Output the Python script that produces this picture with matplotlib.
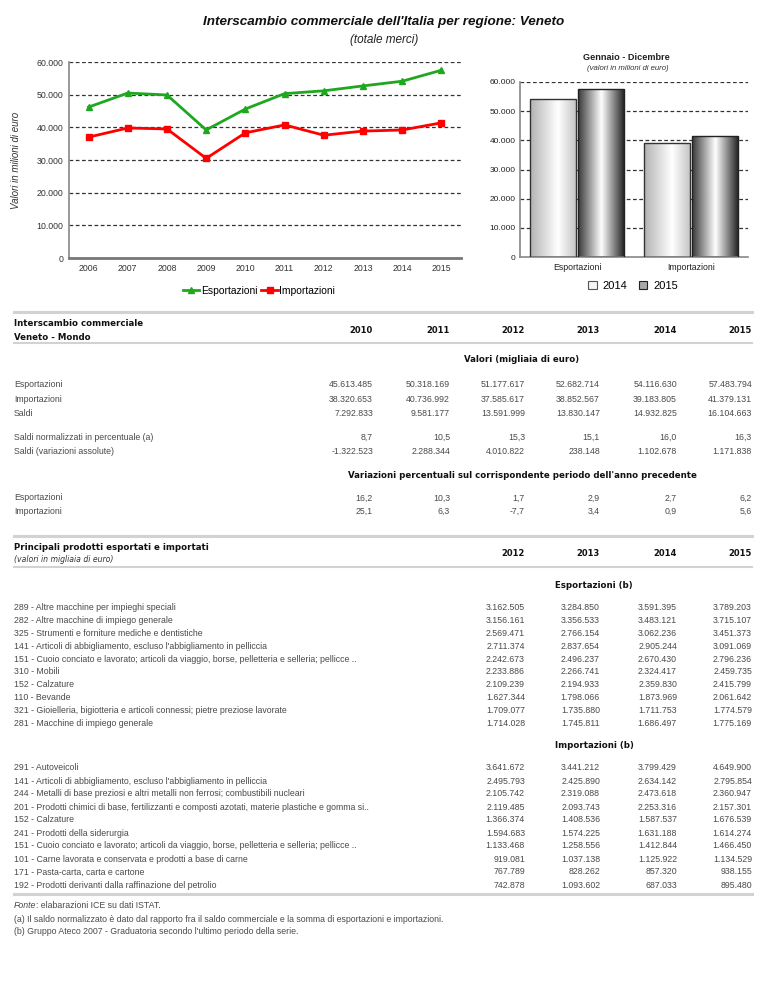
import numpy as np
import matplotlib
matplotlib.use('Agg')
import matplotlib.pyplot as plt
from matplotlib.lines import Line2D
from matplotlib.patches import Patch

W, H = 768, 994

# ---- chart data (milioni di euro) ----
years_line = ['2006', '2007', '2008', '2009', '2010', '2011', '2012', '2013', '2014', '2015']
export_line = [46200, 50500, 49900, 39200, 45613, 50318, 51178, 52683, 54117, 57484]
import_line = [37000, 39800, 39500, 30500, 38321, 40737, 37586, 38853, 39184, 41379]

bar_groups = ['Esportazioni', 'Importazioni']
bar_2014 = [54117, 39184]
bar_2015 = [57484, 41379]

# ---- table data (migliaia di euro) ----
tab_years = ['2010', '2011', '2012', '2013', '2014', '2015']
val_exp = [45613485, 50318169, 51177617, 52682714, 54116630, 57483794]
val_imp = [38320653, 40736992, 37585617, 38852567, 39183805, 41379131]
val_saldi = [7292833, 9581177, 13591999, 13830147, 14932825, 16104663]
saldi_norm = [8.7, 10.5, 15.3, 15.1, 16.0, 16.3]
saldi_var = [-1322523, 2288344, 4010822, 238148, 1102678, 1171838]
var_exp = [16.2, 10.3, 1.7, 2.9, 2.7, 6.2]
var_imp = [25.1, 6.3, -7.7, 3.4, 0.9, 5.6]

prod_years = ['2012', '2013', '2014', '2015']
exp_labels = [
    "289 - Altre macchine per impieghi speciali",
    "282 - Altre macchine di impiego generale",
    "325 - Strumenti e forniture mediche e dentistiche",
    "141 - Articoli di abbigliamento, escluso l'abbigliamento in pelliccia",
    "151 - Cuoio conciato e lavorato; articoli da viaggio, borse, pelletteria e selleria; pellicce ..",
    "310 - Mobili",
    "152 - Calzature",
    "110 - Bevande",
    "321 - Gioielleria, bigiotteria e articoli connessi; pietre preziose lavorate",
    "281 - Macchine di impiego generale",
]
exp_vals = [
    [3162505, 3284850, 3591395, 3789203],
    [3156161, 3356533, 3483121, 3715107],
    [2569471, 2766154, 3062236, 3451373],
    [2711374, 2837654, 2905244, 3091069],
    [2242673, 2496237, 2670430, 2796236],
    [2233886, 2266741, 2324417, 2459735],
    [2109239, 2194933, 2359830, 2415799],
    [1627344, 1798066, 1873969, 2061642],
    [1709077, 1735880, 1711753, 1774579],
    [1714028, 1745811, 1686497, 1775169],
]
imp_labels = [
    "291 - Autoveicoli",
    "141 - Articoli di abbigliamento, escluso l'abbigliamento in pelliccia",
    "244 - Metalli di base preziosi e altri metalli non ferrosi; combustibili nucleari",
    "201 - Prodotti chimici di base, fertilizzanti e composti azotati, materie plastiche e gomma si..",
    "152 - Calzature",
    "241 - Prodotti della siderurgia",
    "151 - Cuoio conciato e lavorato; articoli da viaggio, borse, pelletteria e selleria; pellicce ..",
    "101 - Carne lavorata e conservata e prodotti a base di carne",
    "171 - Pasta-carta, carta e cartone",
    "192 - Prodotti derivanti dalla raffinazione del petrolio",
]
imp_vals = [
    [3641672, 3441212, 3799429, 4649900],
    [2495793, 2425890, 2634142, 2795854],
    [2105742, 2319088, 2473618, 2360947],
    [2119485, 2093743, 2253316, 2157301],
    [1366374, 1408536, 1587537, 1676539],
    [1594683, 1574225, 1631188, 1614274],
    [1133468, 1258556, 1412844, 1466450],
    [919081, 1037138, 1125922, 1134529],
    [767789, 828262, 857320, 938155],
    [742878, 1093602, 687033, 895480],
]


def fmt_int(v):
    return f"{int(v):,}".replace(',', '.')


def fmt_dec(v):
    return f"{v:.1f}".replace('.', ',')


CHART_FONT = ['Liberation Sans', 'DejaVu Sans']
HEAD_FONT = ['DejaVu Sans']
BODY_FONT = ['Liberation Sans', 'DejaVu Sans']
BODY_COL = '#4a4a4a'

fig = plt.figure(figsize=(W / 100, H / 100), dpi=100)
fig.patch.set_facecolor('white')


def px(x0, y0, x1, y1):
    # axes rectangle from pixel box
    return [x0 / W, 1 - y1 / H, (x1 - x0) / W, (y1 - y0) / H]


def T(x, y, s, **kw):
    kw.setdefault('va', 'center')
    return fig.text(x / W, 1 - y / H, s, **kw)


def hrule(y, x0=14, x1=752, lw=2.2, color='#d2d2d2'):
    fig.add_artist(Line2D([x0 / W, x1 / W], [1 - y / H, 1 - y / H],
                          transform=fig.transFigure, lw=lw, color=color))


# ---- titles ----
T(384, 22, "Interscambio commerciale dell'Italia per regione: Veneto", ha='center',
  fontsize=9.7, fontweight='bold', fontstyle='italic', family=CHART_FONT, color='#111')
T(384, 40, "(totale merci)", ha='center', fontsize=8.5, fontstyle='italic',
  family=CHART_FONT, color='#222')

# ---- line chart ----
ax = fig.add_axes(px(69, 62, 461, 258))
xs = np.arange(len(years_line))
l_exp, = ax.plot(xs, export_line, color='#1fa81f', lw=2, marker='^', ms=4.5,
                 label='Esportazioni', zorder=3)
l_imp, = ax.plot(xs, import_line, color='#ff0000', lw=2, marker='s', ms=3.8,
                 label='Importazioni', zorder=3)
ax.set_xlim(-0.5, len(years_line) - 0.5)
ax.set_ylim(0, 60000)
ax.set_yticks(range(0, 60001, 10000))
ax.set_yticklabels([fmt_int(v) for v in range(0, 60001, 10000)])
ax.set_xticks(xs)
ax.set_xticklabels(years_line)
for v in range(10000, 60001, 10000):
    ax.axhline(v, color='#333', lw=0.9, ls=(0, (3, 2)), zorder=1)
for s in ['top', 'right']:
    ax.spines[s].set_visible(False)
ax.spines['left'].set_color('#888')
ax.spines['left'].set_linewidth(1.2)
ax.spines['bottom'].set_color('#777')
ax.spines['bottom'].set_linewidth(2)
ax.tick_params(length=0, labelsize=6.3, colors='#333', pad=4)
for t in ax.get_xticklabels() + ax.get_yticklabels():
    t.set_family(CHART_FONT)
T(16, 160, "Valori in milioni di euro", ha='center', rotation=90, fontsize=7,
  fontstyle='italic', family=CHART_FONT, color='#333')
fig.legend(handles=[l_exp, l_imp], loc='center', bbox_to_anchor=(259 / W, 1 - 291 / H),
           ncol=2, frameon=False, handlelength=1.6, handletextpad=0.15, columnspacing=0.4,
           prop={'family': CHART_FONT, 'size': 7.4})

# ---- bar chart ----
bx = fig.add_axes(px(520, 82, 748, 257))
gx = np.arange(len(bar_groups))
bw = 0.41
b1 = bx.bar(gx - bw / 2 - 0.005, bar_2014, bw, edgecolor='#333', lw=1, zorder=3)
b2 = bx.bar(gx + bw / 2 + 0.005, bar_2015, bw, edgecolor='#222', lw=1, zorder=3)


def shade(patch, pos, vals):
    x, y = patch.get_x(), patch.get_y()
    w, h = patch.get_width(), patch.get_height()
    g = np.interp(np.linspace(0, 1, 200), pos, vals)[None, :]
    im = bx.imshow(g, extent=[x, x + w, y, y + h], cmap='gray', vmin=0, vmax=1,
                   aspect='auto', origin='lower', zorder=2, interpolation='bilinear')
    im.set_clip_path(patch)
    patch.set_facecolor('none')


for p in b1:
    shade(p, [0, 0.6, 1], [0.7, 1.0, 0.76])
for p in b2:
    shade(p, [0, 0.5, 1], [0.22, 1.0, 0.12])
bx.set_xlim(-0.5, len(bar_groups) - 0.5)
bx.set_ylim(0, 60000)
bx.set_yticks(range(0, 60001, 10000))
bx.set_yticklabels([fmt_int(v) for v in range(0, 60001, 10000)])
bx.set_xticks(gx)
bx.set_xticklabels(bar_groups)
for v in range(10000, 60001, 10000):
    bx.axhline(v, color='#333', lw=0.9, ls=(0, (3, 2)), zorder=1)
for s in ['top', 'right']:
    bx.spines[s].set_visible(False)
for s in ['left', 'bottom']:
    bx.spines[s].set_color('#888')
    bx.spines[s].set_linewidth(1.2)
bx.tick_params(length=0, labelsize=6, colors='#222', pad=3)
for t in bx.get_xticklabels() + bx.get_yticklabels():
    t.set_family(CHART_FONT)
bx.tick_params(axis='x', labelsize=6.3, pad=4)
T(626, 57, "Gennaio - Dicembre", ha='center', fontsize=6.6, fontweight='bold',
  family=CHART_FONT, color='#222')
T(628, 69, "(valori in milioni di euro)", ha='center', fontsize=5.6, fontstyle='italic',
  family=CHART_FONT, color='#333')
bar_handles = [Patch(facecolor='#f4f4f4', edgecolor='#555', lw=0.8, label='2014'),
               Patch(facecolor='#a8a8a8', edgecolor='#222', lw=0.8, label='2015')]
fig.legend(handles=bar_handles, loc='center', bbox_to_anchor=(633 / W, 1 - 286 / H),
           ncol=2, frameon=False, handlelength=0.8, handleheight=0.8, handletextpad=0.5,
           columnspacing=1.0, prop={'family': CHART_FONT, 'size': 8})

# ---- table 1 ----
cols6 = [373, 450, 525, 600, 677, 752]
hrule(312)
T(14, 324, "Interscambio commerciale", fontsize=6.2, fontweight='bold', family=HEAD_FONT, color='#111')
T(14, 337, "Veneto - Mondo", fontsize=6.2, fontweight='bold', family=HEAD_FONT, color='#111')
for x, yr in zip(cols6, tab_years):
    T(x, 330, yr, ha='right', fontsize=6, fontweight='bold', family=HEAD_FONT, color='#111')
hrule(343, lw=1.5)
T(522, 360, "Valori (migliaia di euro)", ha='center', fontsize=6.2, fontweight='bold',
  family=HEAD_FONT, color='#111')

rows1 = [
    ("Esportazioni", [fmt_int(v) for v in val_exp], 385),
    ("Importazioni", [fmt_int(v) for v in val_imp], 399),
    ("Saldi", [fmt_int(v) for v in val_saldi], 413),
    ("Saldi normalizzati in percentuale (a)", [fmt_dec(v) for v in saldi_norm], 437),
    ("Saldi (variazioni assolute)", [fmt_int(v) for v in saldi_var], 451),
]
for lab, vals, y in rows1:
    T(14, y, lab, fontsize=6.3, family=BODY_FONT, color=BODY_COL)
    for x, s in zip(cols6, vals):
        T(x, y, s, ha='right', fontsize=6.3, family=BODY_FONT, color=BODY_COL)

T(522, 476, "Variazioni percentuali sul corrispondente periodo dell'anno precedente", ha='center',
  fontsize=6.2, fontweight='bold', family=HEAD_FONT, color='#111')
for lab, vals, y in [("Esportazioni", var_exp, 498), ("Importazioni", var_imp, 511)]:
    T(14, y, lab, fontsize=6.3, family=BODY_FONT, color=BODY_COL)
    for x, v in zip(cols6, vals):
        T(x, y, fmt_dec(v), ha='right', fontsize=6.3, family=BODY_FONT, color=BODY_COL)

# ---- table 2 ----
cols4 = cols6[2:]
hrule(536)
T(14, 548, "Principali prodotti esportati e importati", fontsize=6.2, fontweight='bold',
  family=HEAD_FONT, color='#111')
T(14, 560, "(valori in migliaia di euro)", fontsize=5.6, fontstyle='italic',
  family=HEAD_FONT, color='#333')
for x, yr in zip(cols4, prod_years):
    T(x, 554, yr, ha='right', fontsize=6, fontweight='bold', family=HEAD_FONT, color='#111')
hrule(567, lw=1.5)

T(594, 586, "Esportazioni (b)", ha='center', fontsize=6.2, fontweight='bold',
  family=HEAD_FONT, color='#111')
for i, (lab, vals) in enumerate(zip(exp_labels, exp_vals)):
    y = 608 + i * 12.8
    T(14, y, lab, fontsize=6.3, family=BODY_FONT, color=BODY_COL)
    for x, v in zip(cols4, vals):
        T(x, y, fmt_int(v), ha='right', fontsize=6.3, family=BODY_FONT, color=BODY_COL)

T(594, 746, "Importazioni (b)", ha='center', fontsize=6.2, fontweight='bold',
  family=HEAD_FONT, color='#111')
for i, (lab, vals) in enumerate(zip(imp_labels, imp_vals)):
    y = 768 + i * 13
    T(14, y, lab, fontsize=6.3, family=BODY_FONT, color=BODY_COL)
    for x, v in zip(cols4, vals):
        T(x, y, fmt_int(v), ha='right', fontsize=6.3, family=BODY_FONT, color=BODY_COL)

hrule(894)

# ---- footnotes ----
r = fig.canvas.get_renderer()
f1 = T(14, 906, "Fonte", fontsize=6.3, fontstyle='italic', family=BODY_FONT, color=BODY_COL)
bb = f1.get_window_extent(renderer=r)
fig.text(bb.x1 / W, 1 - 906 / H, ": elabarazioni ICE su dati ISTAT.", va='center',
         fontsize=6.3, family=BODY_FONT, color=BODY_COL)
T(14, 919, "(a) Il saldo normalizzato è dato dal rapporto fra il saldo commerciale e la somma di "
  "esportazioni e importazioni.", fontsize=6.3, family=BODY_FONT, color=BODY_COL)
T(14, 932, "(b) Gruppo Ateco 2007 - Graduatoria secondo l'ultimo periodo della serie.",
  fontsize=6.3, family=BODY_FONT, color=BODY_COL)

fig.savefig('out.png', dpi=100)
